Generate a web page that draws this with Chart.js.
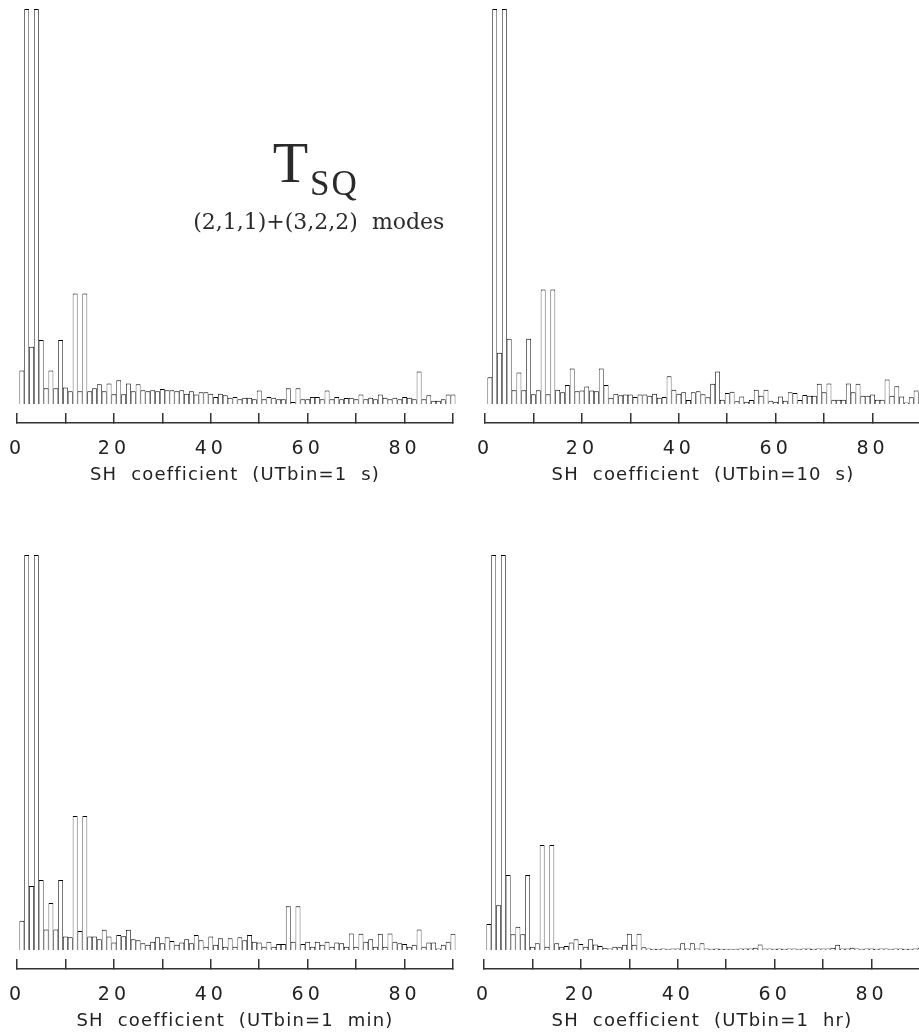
<!DOCTYPE html>
<html>
<head>
<meta charset="utf-8">
<script src="https://cdn.jsdelivr.net/npm/chart.js@4.4.0/dist/chart.umd.min.js"></script>
<style>
  html, body { margin: 0; padding: 0; background: #fff; overflow: hidden; width: 919px; height: 1034px; }
  canvas.panel { position: absolute; }
</style>
</head>
<body>
<canvas id="bin1s" class="panel" width="470" height="500" style="left:0px;top:0px"></canvas>
<canvas id="bin10s" class="panel" width="470" height="500" style="left:468px;top:0px"></canvas>
<canvas id="bin1min" class="panel" width="470" height="500" style="left:0px;top:546px"></canvas>
<canvas id="bin1hr" class="panel" width="470" height="500" style="left:467px;top:546px"></canvas>
<script>
// SH coefficient index (one bar per coefficient)
const shIndex = [
  1, 2, 3, 4, 5, 6, 7, 8, 9, 10, 11, 12, 13, 14, 15, 16, 17, 18, 19, 20,
  21, 22, 23, 24, 25, 26, 27, 28, 29, 30, 31, 32, 33, 34, 35, 36, 37, 38, 39, 40,
  41, 42, 43, 44, 45, 46, 47, 48, 49, 50, 51, 52, 53, 54, 55, 56, 57, 58, 59, 60,
  61, 62, 63, 64, 65, 66, 67, 68, 69, 70, 71, 72, 73, 74, 75, 76, 77, 78, 79, 80,
  81, 82, 83, 84, 85, 86, 87, 88, 89, 90
];

// relative power per coefficient, one array per UT bin size
const utbin1s = [
  8.5, 100, 14.5, 100, 16.2, 4.0, 8.5, 4.0, 16.2, 4.2,
  3.2, 28, 3.2, 28, 3.2, 4.0, 5.0, 3.2, 5.2, 2.5,
  6.0, 2.5, 5.2, 3.2, 5.0, 3.5, 3.2, 3.5, 3.2, 3.8,
  3.5, 3.5, 3.2, 3.5, 2.6, 3.2, 2.4, 3.0, 3.0, 2.6,
  1.8, 2.6, 2.2, 1.6, 1.8, 1.2, 1.6, 1.6, 1.2, 3.4,
  1.2, 1.8, 1.6, 1.2, 1.2, 4.0, 0.5, 4.0, 1.2, 1.2,
  1.8, 1.8, 1.2, 3.4, 1.2, 1.8, 1.2, 1.5, 1.6, 1.2,
  2.4, 1.2, 1.6, 1.2, 2.4, 1.6, 1.2, 1.6, 1.2, 1.8,
  1.6, 1.2, 8.2, 1.2, 2.2, 0.8, 0.8, 1.2, 2.4, 2.4
];
const utbin10s = [
  6.8, 100, 13, 100, 16.5, 3.5, 8, 3.5, 16.5, 2.5,
  3.5, 29, 2.5, 29, 3.6, 3.0, 4.8, 9.0, 3.2, 3.4,
  4.4, 3.4, 3.2, 9.0, 4.8, 1.6, 2.6, 2.2, 2.4, 2.4,
  1.8, 2.4, 2.4, 2.1, 2.6, 1.6, 1.8, 7.0, 3.6, 2.6,
  3.0, 1.0, 3.0, 3.2, 2.5, 1.7, 5.1, 8.2, 1.1, 2.8,
  3.1, 0.7, 1.9, 0.6, 1.0, 3.6, 2.1, 3.6, 0.8, 0.6,
  1.9, 0.8, 3.0, 2.8, 1.0, 2.3, 2.1, 2.1, 5.1, 3.0,
  5.2, 1.1, 1.1, 1.1, 5.2, 3.0, 5.1, 2.1, 2.1, 2.4,
  1.1, 1.1, 6.2, 2.1, 4.5, 1.9, 0.4, 1.7, 3.4, 3.0
];
const utbin1min = [
  7.4, 100, 16.2, 100, 17.7, 5.2, 11.9, 5.2, 17.7, 3.4,
  3.2, 33.9, 4.8, 33.9, 3.4, 3.4, 2.7, 5.1, 3.4, 1.9,
  3.8, 3.5, 5.1, 2.7, 2.5, 1.7, 1.3, 2.1, 3.2, 1.7,
  3.2, 2.3, 1.3, 1.9, 2.7, 1.7, 3.8, 2.5, 0.8, 3.4,
  1.3, 3.0, 0.8, 3.0, 0.8, 3.2, 2.5, 3.8, 2.1, 1.9,
  0.8, 2.1, 0.8, 1.5, 1.5, 11.1, 2.1, 11.1, 1.5, 2.1,
  0.8, 2.1, 1.3, 2.1, 0.8, 1.9, 1.7, 0.8, 4.2, 0.8,
  4.1, 2.1, 2.7, 0.8, 4.1, 0.8, 4.2, 2.1, 1.7, 1.5,
  0.8, 1.3, 5.2, 0.8, 1.9, 1.9, 0.4, 1.3, 2.1, 4.1
];
const utbin1hr = [
  6.6, 100, 11.3, 100, 19.0, 4.0, 5.9, 4.0, 19.0, 0.8,
  1.7, 26.6, 0.8, 26.6, 1.7, 0.8, 1.0, 1.9, 2.7, 1.5,
  0.8, 2.7, 1.4, 1.0, 0.6, 0.4, 0.8, 0.7, 1.3, 4.1,
  1.3, 4.1, 0.7, 0.4, 0.3, 0.3, 0.4, 0.3, 0.4, 0.4,
  1.7, 0.4, 1.7, 0.4, 1.7, 0.4, 0.3, 0.4, 0.3, 0.3,
  0.3, 0.3, 0.4, 0.4, 0.4, 0.6, 1.4, 0.4, 0.4, 0.3,
  0.4, 0.3, 0.4, 0.4, 0.3, 0.4, 0.4, 0.3, 0.4, 0.4,
  0.4, 0.6, 1.3, 0.4, 0.4, 0.6, 0.4, 0.3, 0.4, 0.4,
  0.3, 0.4, 0.4, 0.3, 0.4, 0.4, 0.3, 0.3, 0.4, 0.6
];

const tickLabels = [0, 20, 40, 60, 80];
const xCaptions = [
  'SH  coefficient  (UTbin=1  s)',
  'SH  coefficient  (UTbin=10  s)',
  'SH  coefficient  (UTbin=1  min)',
  'SH  coefficient  (UTbin=1  hr)'
];

const ink = '#222';

// tick labels get wide spacing, the caption a little
const letterSpacing = {
  id: 'letterSpacing',
  beforeDraw(chart) { chart.ctx.letterSpacing = '1.2px'; },
  afterDatasetsDraw(chart) { chart.ctx.letterSpacing = '4px'; },
  afterDraw(chart) { chart.ctx.letterSpacing = '0px'; }
};

// T_SQ title block in the first panel
const modeLabel = {
  id: 'modeLabel',
  afterDraw(chart) {
    const { ctx, scales: { x, y } } = chart;
    ctx.save();
    ctx.letterSpacing = '0px';
    ctx.fillStyle = '#2a2a2a';
    ctx.textBaseline = 'alphabetic';
    ctx.textAlign = 'left';
    ctx.font = '58px "Liberation Serif"';
    ctx.fillText('T', x.getPixelForValue(52.8), y.getPixelForValue(56.2));
    ctx.font = '35px "Liberation Serif"';
    ctx.letterSpacing = '2px';
    ctx.fillText('SQ', x.getPixelForValue(60.5), y.getPixelForValue(52.9));
    ctx.letterSpacing = '0px';
    ctx.textAlign = 'center';
    ctx.font = '22px "DejaVu Serif"';
    ctx.fillText('(2,1,1)+(3,2,2)  modes', x.getPixelForValue(62.3), y.getPixelForValue(44.2));
    ctx.restore();
  }
};

function drawPanel(id, values, caption, withLabel) {
  const plugins = [letterSpacing];
  if (withLabel) plugins.push(modeLabel);
  new Chart(document.getElementById(id), {
    type: 'bar',
    data: {
      labels: shIndex,
      datasets: [{
        data: values,
        backgroundColor: '#fff',
        borderColor: '#000',
        borderWidth: { top: 1, left: 0.75, right: 0.75, bottom: 0 },
        borderSkipped: 'start',
        inflateAmount: 0,
        barPercentage: 1,
        categoryPercentage: 1,
        clip: false
      }]
    },
    options: {
      responsive: false,
      animation: false,
      events: [],
      layout: { padding: { left: 17, right: 17, top: 9, bottom: 0 } },
      plugins: { legend: { display: false }, tooltip: { enabled: false } },
      scales: {
        x: {
          type: 'linear',
          min: 0,
          max: 90,
          offset: false,
          grid: {
            offset: false,
            drawOnChartArea: false,
            drawTicks: true,
            tickLength: -10,
            color: '#333',
            lineWidth: 1.5
          },
          border: { display: true, color: '#333', width: 1.6 },
          ticks: {
            stepSize: 10,
            autoSkip: false,
            maxRotation: 0,
            padding: 25,
            z: 1,
            color: ink,
            font: { family: '"DejaVu Sans"', size: 19 },
            callback: (v) => tickLabels.includes(v) ? String(v) : ''
          },
          title: {
            display: true,
            text: caption,
            color: ink,
            font: { family: '"DejaVu Sans"', size: 18 },
            padding: { top: 0, bottom: 14 }
          },
          afterFit: (scale) => {
            scale.height = 77;
            scale.paddingLeft = 0;
            scale.paddingRight = 0;
          }
        },
        y: {
          display: false,
          min: -4.81,
          max: 100
        }
      }
    },
    plugins: plugins
  });
}

drawPanel('bin1s', utbin1s, xCaptions[0], true);
drawPanel('bin10s', utbin10s, xCaptions[1], false);
drawPanel('bin1min', utbin1min, xCaptions[2], false);
drawPanel('bin1hr', utbin1hr, xCaptions[3], false);
</script>
</body>
</html>
